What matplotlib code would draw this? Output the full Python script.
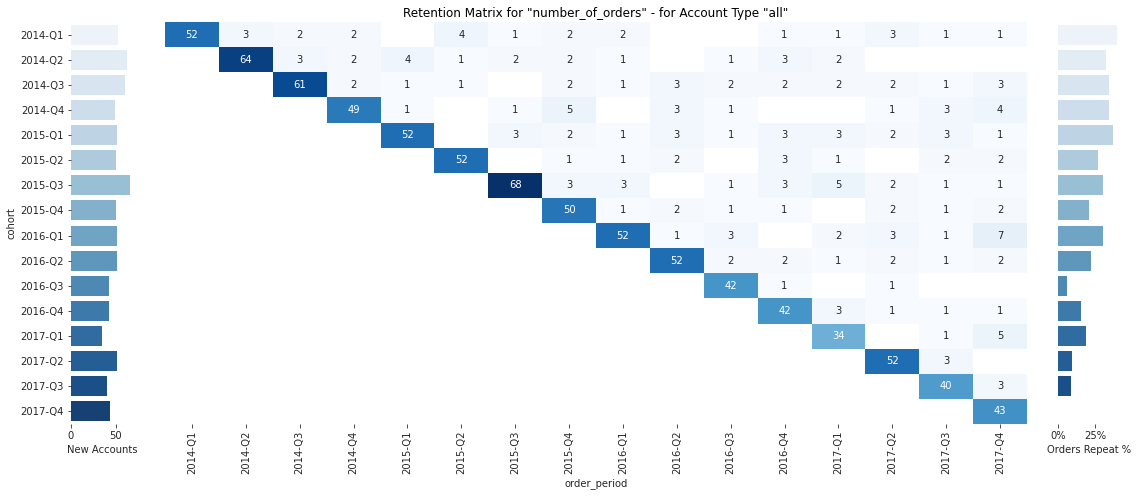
import numpy as np
import matplotlib
matplotlib.use("Agg")
import matplotlib.pyplot as plt
import matplotlib.ticker as mticker
import seaborn as sns

periods = ["2014-Q1", "2014-Q2", "2014-Q3", "2014-Q4",
           "2015-Q1", "2015-Q2", "2015-Q3", "2015-Q4",
           "2016-Q1", "2016-Q2", "2016-Q3", "2016-Q4",
           "2017-Q1", "2017-Q2", "2017-Q3", "2017-Q4"]
cohorts = list(periods)

N = None
# rows: cohort, columns: order_period (None = no orders)
order_counts = [
    [52, 3, 2, 2, N, 4, 1, 2, 2, N, N, 1, 1, 3, 1, 1],
    [N, 64, 3, 2, 4, 1, 2, 2, 1, N, 1, 3, 2, N, N, N],
    [N, N, 61, 2, 1, 1, N, 2, 1, 3, 2, 2, 2, 2, 1, 3],
    [N, N, N, 49, 1, N, 1, 5, N, 3, 1, N, N, 1, 3, 4],
    [N, N, N, N, 52, N, 3, 2, 1, 3, 1, 3, 3, 2, 3, 1],
    [N, N, N, N, N, 52, N, 1, 1, 2, N, 3, 1, N, 2, 2],
    [N, N, N, N, N, N, 68, 3, 3, N, 1, 3, 5, 2, 1, 1],
    [N, N, N, N, N, N, N, 50, 1, 2, 1, 1, N, 2, 1, 2],
    [N, N, N, N, N, N, N, N, 52, 1, 3, N, 2, 3, 1, 7],
    [N, N, N, N, N, N, N, N, N, 52, 2, 2, 1, 2, 1, 2],
    [N, N, N, N, N, N, N, N, N, N, 42, 1, N, 1, N, N],
    [N, N, N, N, N, N, N, N, N, N, N, 42, 3, 1, 1, 1],
    [N, N, N, N, N, N, N, N, N, N, N, N, 34, N, 1, 5],
    [N, N, N, N, N, N, N, N, N, N, N, N, N, 52, 3, N],
    [N, N, N, N, N, N, N, N, N, N, N, N, N, N, 40, 3],
    [N, N, N, N, N, N, N, N, N, N, N, N, N, N, N, 43],
]

new_accounts = [52, 62, 60, 49, 51, 50, 66, 50, 51, 51, 42, 42, 34, 51, 40, 43]
repeat_pct = [39.9, 32.4, 34.5, 34.5, 37.2, 27.0, 30.4, 20.9, 30.4, 22.3,
              6.1, 15.5, 18.9, 9.5, 8.8, 0.0]

W, H = 1138, 496
DPI = 72
fig = plt.figure(figsize=(W / DPI, H / DPI), dpi=DPI)
plt.rcParams["font.family"] = ["DejaVu Sans"]

TXT = "#262626"
plt.rcParams.update({
    "text.color": TXT, "axes.labelcolor": TXT,
    "xtick.color": TXT, "ytick.color": TXT,
    "font.size": 10,
})


def px_axes(x0, x1, y0, y1):
    return fig.add_axes([x0 / W, 1 - y1 / H, (x1 - x0) / W, (y1 - y0) / H])


top, bot = 22, 424
ax_l = px_axes(71, 133, top, bot)
ax_h = px_axes(165, 1027, top, bot)
ax_r = px_axes(1058, 1120, top, bot)

data = np.array([[np.nan if v is None else v for v in row] for row in order_counts], dtype=float)
sns.heatmap(data, ax=ax_h, cmap="Blues", annot=True, fmt="g", cbar=False,
            mask=np.isnan(data), annot_kws={"fontsize": 10})
ax_h.set_xticks(np.arange(len(periods)) + 0.5)
ax_h.set_xticklabels(periods, rotation=90)
ax_h.set_yticks([])
ax_h.set_xlabel("order_period", labelpad=4)
ax_h.set_ylabel("")
ax_h.set_title('Retention Matrix for "number_of_orders" - for Account Type "all"',
               fontsize=12, color="black", pad=5)
ax_h.tick_params(axis="x", length=3.5, width=0.8)

pal = sns.color_palette("Blues", len(cohorts))
pal = [sns.desaturate(c, 0.75) for c in pal]
ypos = np.arange(len(cohorts))

ax_l.barh(ypos, new_accounts, height=0.8, color=pal)
ax_l.set_ylim(len(cohorts) - 0.5, -0.5)
ax_l.set_xlim(0, 69)
ax_l.set_yticks(ypos)
ax_l.set_yticklabels(cohorts)
ax_l.set_xticks([0, 50])
ax_l.set_xlabel("New Accounts", labelpad=4)
ax_l.set_ylabel("cohort")
ax_l.tick_params(length=3.5, width=0.8)

ax_r.barh(ypos, repeat_pct, height=0.8, color=pal)
ax_r.set_ylim(len(cohorts) - 0.5, -0.5)
ax_r.set_xlim(0, 42)
ax_r.set_yticks([])
ax_r.set_xticks([0, 25])
ax_r.xaxis.set_major_formatter(mticker.FuncFormatter(lambda v, p: f"{v:.0f}%"))
ax_r.set_xlabel("Orders Repeat %", labelpad=4)
ax_r.tick_params(length=3.5, width=0.8)

for ax in (ax_l, ax_h, ax_r):
    for s in ax.spines.values():
        s.set_visible(False)

fig.savefig("out.png", dpi=DPI)
